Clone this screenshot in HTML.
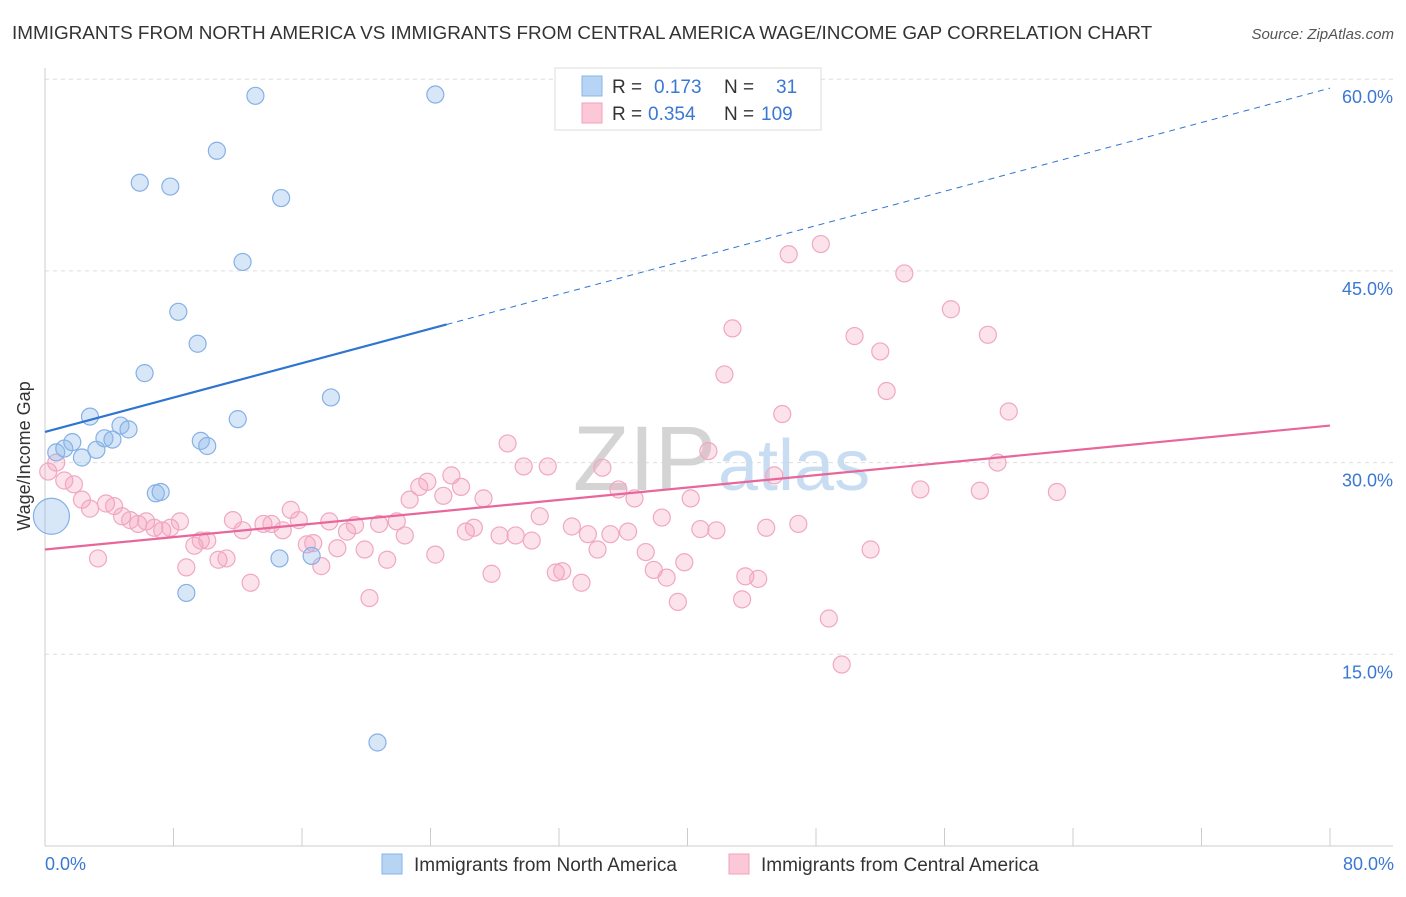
<!DOCTYPE html>
<html><head><meta charset="utf-8"><style>
body{margin:0;background:#fff;font-family:"Liberation Sans",sans-serif;}
svg text{font-family:"Liberation Sans",sans-serif;}
</style></head><body>
<svg id="chart" width="1406" height="892" xmlns="http://www.w3.org/2000/svg">
<text x="12" y="39" font-size="18.9" fill="#333">IMMIGRANTS FROM NORTH AMERICA VS IMMIGRANTS FROM CENTRAL AMERICA WAGE/INCOME GAP CORRELATION CHART</text>
<text x="1394" y="39" font-size="15" fill="#555" text-anchor="end" font-style="italic">Source: ZipAtlas.com</text>
<g id="grid"></g>
<text x="716" y="490" font-size="92" fill="#d4d4d4" text-anchor="end" font-family="Liberation Serif">ZIP</text>
<text x="718" y="490" font-size="72" fill="#c8dcf2">atlas</text>
<g id="pts"></g>
<g id="lines"></g>
<text x="30" y="456" font-size="18" fill="#333" text-anchor="middle" transform="rotate(-90 30 456)">Wage/Income Gap</text>
<text x="45" y="870" font-size="18" fill="#3a78d4">0.0%</text>
<text x="1394" y="870" font-size="18" fill="#3a78d4" text-anchor="end">80.0%</text>
<g>
<rect x="555" y="68" width="266" height="62" fill="#fff" stroke="#ddd"/>
<rect x="582" y="76" width="20" height="20" fill="#b8d4f4" stroke="#8ab4e8"/>
<rect x="582" y="103" width="20" height="20" fill="#fcc8d8" stroke="#f0a0bc"/>
<text x="612" y="93" font-size="19" fill="#333">R =</text><text x="654" y="93" font-size="19" fill="#3a78d4">0.173</text>
<text x="724" y="93" font-size="19" fill="#333">N =</text><text x="776" y="93" font-size="19" fill="#3a78d4">31</text>
<text x="612" y="120" font-size="19" fill="#333">R =</text><text x="648" y="120" font-size="19" fill="#3a78d4">0.354</text>
<text x="724" y="120" font-size="19" fill="#333">N =</text><text x="761" y="120" font-size="19" fill="#3a78d4">109</text>
</g>
<g>
<rect x="382" y="854" width="20" height="20" fill="#b8d4f4" stroke="#8ab4e8"/>
<text x="414" y="871" font-size="19" fill="#333">Immigrants from North America</text></g>
<g>
<rect x="729" y="854" width="20" height="20" fill="#fcc8d8" stroke="#f0a0bc"/>
<text x="761" y="871" font-size="19" fill="#333">Immigrants from Central America</text></g>
</svg>
<script>
const yTicks=[15,30,45,60];
const blueX=[0.4,0.7,1.2,1.7,2.3,2.8,3.2,3.7,4.2,4.7,5.2,5.9,6.2,6.9,7.2,7.8,8.3,8.8,9.5,9.7,10.1,10.7,12.0,12.3,13.1,14.6,14.7,16.6,17.8,20.7,24.3];
const blueY=[25.8,30.8,31.1,31.6,30.4,33.6,31.0,31.9,31.8,32.9,32.6,51.9,37.0,27.6,27.7,51.6,41.8,19.8,39.3,31.7,31.3,54.4,33.4,45.7,58.7,22.5,50.7,22.7,35.1,8.1,58.8];
const pinkX=[0.2,0.7,1.2,1.8,2.3,2.8,3.3,3.8,4.3,4.8,5.3,5.8,6.3,6.8,7.3,7.8,8.4,8.8,9.3,9.7,10.1,10.8,11.3,11.7,12.3,12.8,13.6,14.1,14.8,15.3,15.8,16.3,16.7,17.2,17.7,18.2,18.8,19.3,19.9,20.2,20.8,21.3,21.9,22.4,22.7,23.3,23.8,24.3,24.8,25.3,25.9,26.2,26.7,27.3,27.8,28.3,28.8,29.3,29.8,30.3,30.8,31.3,31.8,32.2,32.8,33.4,33.8,34.4,34.7,35.2,35.7,36.3,36.7,37.4,37.9,38.4,38.7,39.4,39.8,40.2,40.8,41.3,41.8,42.3,42.8,43.4,43.6,44.4,44.9,45.4,45.9,46.3,46.9,48.3,48.8,49.6,50.4,51.4,52.0,52.4,53.5,54.5,56.4,58.2,58.7,59.3,60.0,63.0];
const pinkY=[29.3,30.0,28.6,28.3,27.1,26.4,22.5,26.8,26.6,25.8,25.5,25.2,25.4,24.9,24.7,24.9,25.4,21.8,23.5,23.9,23.9,22.4,22.5,25.5,24.7,20.6,25.2,25.2,24.7,26.3,25.5,23.6,23.7,21.9,25.4,23.3,24.6,25.1,23.2,19.4,25.2,22.4,25.4,24.3,27.1,28.1,28.5,22.8,27.4,29.0,28.1,24.6,24.9,27.2,21.3,24.3,31.5,24.3,29.7,23.9,25.8,29.7,21.4,21.5,25.0,20.6,24.4,23.2,29.6,24.4,27.9,24.6,27.2,23.0,21.6,25.7,21.0,19.1,22.2,27.2,24.8,30.9,24.7,36.9,40.5,19.3,21.1,20.9,24.9,29.0,33.8,46.3,25.2,47.1,17.8,14.2,39.9,23.2,38.7,35.6,44.8,27.9,42.0,27.8,40.0,30.0,34.0,27.7];
const blueTrend=[32.4,59.3];
const pinkTrend=[23.2,32.9];
const X0=45,X1=1330,Y0=846,PY=12.78;
const sx=v=>X0+v/80*(X1-X0), sy=v=>Y0-v*PY;
const NS="http://www.w3.org/2000/svg";
function mk(t,a,p){const e=document.createElementNS(NS,t);for(const k in a)e.setAttribute(k,a[k]);p.appendChild(e);return e;}
const grid=document.getElementById('grid');
yTicks.forEach(t=>{
 const l=mk('line',{x1:45,x2:1393,y1:sy(t),y2:sy(t),stroke:'#ddd','stroke-dasharray':'4,4'},grid);
 
 
 const tx=mk('text',{x:1393,y:sy(t)+24,'font-size':18,fill:'#3a78d4','text-anchor':'end'},grid);
 tx.textContent=t.toFixed(1)+'%';
 
 
});
const ax=mk('line',{x1:45,x2:45,y1:68,y2:846,stroke:'#ccc'},grid);


const bx=mk('line',{x1:45,x2:1393,y1:846,y2:846,stroke:'#ccc'},grid);


for(let i=0;i<=10;i++){const tk=mk('line',{x1:sx(i*8),x2:sx(i*8),y1:828,y2:846,stroke:'#ccc'},grid);
 
 }
const pts=document.getElementById('pts');
pinkX.forEach((x,i)=>{const c=mk('circle',{cx:sx(x),cy:sy(pinkY[i]),r:8.5,fill:'rgba(244,160,188,0.3)',stroke:'#f0a8c0','stroke-width':1.2},pts);
 
 });
blueX.forEach((x,i)=>{const c=mk('circle',{cx:sx(x),cy:sy(blueY[i]),r:i===0?18:8.5,fill:'rgba(140,185,236,0.35)',stroke:'#86b0e6','stroke-width':1.2},pts);
 
 });
const lines=document.getElementById('lines');
const bAt=x=>blueTrend[0]+(blueTrend[1]-blueTrend[0])*x/80;
const l1=mk('line',{x1:sx(0),y1:sy(bAt(0)),x2:sx(25),y2:sy(bAt(25)),stroke:'#2f74d0','stroke-width':2.2},lines);


const l2=mk('line',{x1:sx(25),y1:sy(bAt(25)),x2:sx(80),y2:sy(bAt(80)),stroke:'#2f74d0','stroke-width':1,'stroke-dasharray':'6,5'},lines);


const l3=mk('line',{x1:sx(0),y1:sy(pinkTrend[0]),x2:sx(80),y2:sy(pinkTrend[1]),stroke:'#e8679a','stroke-width':2.2},lines);


</script>
</body></html>
